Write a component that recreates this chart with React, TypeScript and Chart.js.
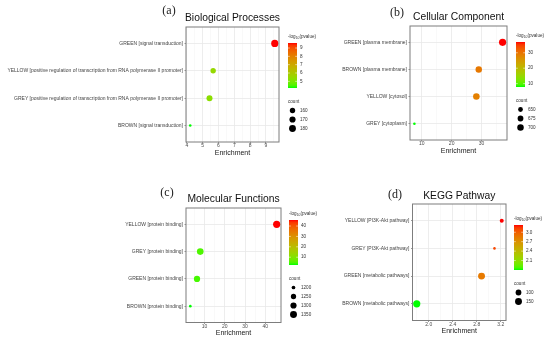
import React, { useEffect, useRef } from 'react';
import { Chart, registerables } from 'chart.js';

Chart.register(...registerables);

// ---------- data ----------
const bpTerms = [
  'GREEN [signal transduction]',
  'YELLOW [positive regulation of transcription from RNA polymerase II promoter]',
  'GREY [positive regulation of transcription from RNA polymerase II promoter]',
  'BROWN [signal transduction]',
];
const bpEnrichment = [9.56, 5.66, 5.43, 4.21];
const bpLogP = [9.6, 5.5, 5.3, 4.2];
const bpCount = [186, 160, 167, 145];
const bpXTicks = [4, 5, 6, 7, 8, 9];
const bpColorTicks = [5, 6, 7, 8, 9];
const bpCountBreaks = [160, 170, 180];

const ccTerms = ['GREEN [plasma membrane]', 'BROWN [plasma membrane]', 'YELLOW [cytosol]', 'GREY [cytoplasm]'];
const ccEnrichment = [37.1, 29.1, 28.3, 7.5];
const ccLogP = [37.0, 29.5, 28.5, 7.8];
const ccCount = [728, 698, 703, 628];
const ccXTicks = [10, 20, 30];
const ccColorTicks = [10, 20, 30];
const ccCountBreaks = [650, 675, 700];

const mfTerms = ['YELLOW [protein binding]', 'GREY [protein binding]', 'GREEN [protein binding]', 'BROWN [protein binding]'];
const mfEnrichment = [45.6, 7.9, 6.3, 3.0];
const mfLogP = [45.8, 5.0, 4.5, 2.5];
const mfCount = [1370, 1330, 1305, 1190];
const mfXTicks = [10, 20, 30, 40];
const mfColorTicks = [10, 20, 30, 40];
const mfCountBreaks = [1200, 1250, 1300, 1350];

const kpTerms = ['YELLOW [PI3K-Akt pathway]', 'GREY [PI3K-Akt pathway]', 'GREEN [metabolic pathways]', 'BROWN [metabolic pathways]'];
const kpEnrichment = [3.217, 3.096, 2.88, 1.8];
const kpLogP = [3.23, 3.1, 2.85, 1.8];
const kpCount = [52, 40, 152, 165];
const kpXTicks = [2.0, 2.4, 2.8, 3.2];
const kpColorTicks = [2.1, 2.4, 2.7, 3.0];
const kpCountBreaks = [100, 150];

// ---------- layout / style ----------
const W = 550;
const H = 342;
const SANS = "'Liberation Sans', Arial, sans-serif";
const SERIF = "'Liberation Serif', 'Times New Roman', serif";
const X_AXIS_H = 15.2;
const BAR_W = 9;
const BAR_H = 45;

const panels = [
  {
    letter: '(a)', title: 'Biological Processes', terms: bpTerms, enrichment: bpEnrichment, logp: bpLogP,
    count: bpCount, xTicks: bpXTicks, xDec: 0, colorTicks: bpColorTicks, cDec: 0, countBreaks: bpCountBreaks,
    plot: { l: 186, t: 27, r: 279, b: 142 }, bar: { x: 288, y: 43 }, letterPos: { x: 169, y: 11 }, titleY: 18,
  },
  {
    letter: '(b)', title: 'Cellular Component', terms: ccTerms, enrichment: ccEnrichment, logp: ccLogP,
    count: ccCount, xTicks: ccXTicks, xDec: 0, colorTicks: ccColorTicks, cDec: 0, countBreaks: ccCountBreaks,
    plot: { l: 410, t: 26, r: 507, b: 140 }, bar: { x: 516, y: 42 }, letterPos: { x: 397, y: 13 }, titleY: 16.7,
  },
  {
    letter: '(c)', title: 'Molecular Functions', terms: mfTerms, enrichment: mfEnrichment, logp: mfLogP,
    count: mfCount, xTicks: mfXTicks, xDec: 0, colorTicks: mfColorTicks, cDec: 0, countBreaks: mfCountBreaks,
    plot: { l: 186, t: 208, r: 281, b: 322.5 }, bar: { x: 289, y: 220 }, letterPos: { x: 167, y: 193 }, titleY: 199,
  },
  {
    letter: '(d)', title: 'KEGG Pathway', terms: kpTerms, enrichment: kpEnrichment, logp: kpLogP,
    count: kpCount, xTicks: kpXTicks, xDec: 1, colorTicks: kpColorTicks, cDec: 1, countBreaks: kpCountBreaks,
    plot: { l: 412.5, t: 204, r: 506, b: 320.5 }, bar: { x: 514, y: 225 }, letterPos: { x: 395, y: 195 }, titleY: 196,
  },
];

// ---------- colour (CIELAB interpolation green -> red, like ggplot) ----------
function toLab(rgb: number[]) {
  const lin = rgb.map((c) => {
    c /= 255;
    return c <= 0.04045 ? c / 12.92 : Math.pow((c + 0.055) / 1.055, 2.4);
  });
  const X = (lin[0] * 0.4124 + lin[1] * 0.3576 + lin[2] * 0.1805) / 0.95047;
  const Y = lin[0] * 0.2126 + lin[1] * 0.7152 + lin[2] * 0.0722;
  const Z = (lin[0] * 0.0193 + lin[1] * 0.1192 + lin[2] * 0.9505) / 1.08883;
  const f = (t: number) => (t > 0.008856 ? Math.cbrt(t) : 7.787 * t + 16 / 116);
  const fx = f(X), fy = f(Y), fz = f(Z);
  return [116 * fy - 16, 500 * (fx - fy), 200 * (fy - fz)];
}
function fromLab(lab: number[]) {
  const [L, a, b] = lab;
  const fy = (L + 16) / 116;
  const fx = fy + a / 500;
  const fz = fy - b / 200;
  const inv = (t: number) => (t * t * t > 0.008856 ? t * t * t : (t - 16 / 116) / 7.787);
  const X = inv(fx) * 0.95047, Y = inv(fy), Z = inv(fz) * 1.08883;
  const r = X * 3.2406 + Y * -1.5372 + Z * -0.4986;
  const g = X * -0.9689 + Y * 1.8758 + Z * 0.0415;
  const bb = X * 0.0557 + Y * -0.204 + Z * 1.057;
  const gam = (c: number) => {
    c = Math.min(1, Math.max(0, c));
    return Math.round(255 * (c <= 0.0031308 ? 12.92 * c : 1.055 * Math.pow(c, 1 / 2.4) - 0.055));
  };
  return `rgb(${gam(r)},${gam(g)},${gam(bb)})`;
}
const LOW = toLab([0, 255, 0]);
const HIGH = toLab([255, 0, 0]);
function mix(t: number) {
  t = Math.min(1, Math.max(0, t));
  return fromLab(LOW.map((v, i) => v + (HIGH[i] - v) * t));
}

function radiusFor(c: number, cmin: number, cmax: number) {
  const t = Math.min(1, Math.max(0, (c - cmin) / (cmax - cmin)));
  return 1.3 + 2.3 * Math.sqrt(t);
}

function decorPlugin(cfg: any) {
  return {
    id: 'decor' + cfg.letter,
    afterDraw(chart: any) {
      const ctx = chart.ctx as CanvasRenderingContext2D;
      const a = chart.chartArea;
      ctx.save();
      // panel border
      ctx.strokeStyle = '#7d7d7d';
      ctx.lineWidth = 1;
      ctx.strokeRect(a.left, a.top, a.right - a.left, a.bottom - a.top);
      // title
      ctx.fillStyle = '#111';
      ctx.font = `10.3px ${SANS}`;
      ctx.textAlign = 'center';
      ctx.textBaseline = 'middle';
      ctx.fillText(cfg.title, (a.left + a.right) / 2, cfg.titleY);
      // panel letter
      ctx.font = `12px ${SERIF}`;
      ctx.fillStyle = '#222';
      ctx.fillText(cfg.letter, cfg.letterPos.x, cfg.letterPos.y);

      // colour bar
      const vmin = Math.min(...cfg.logp);
      const vmax = Math.max(...cfg.logp);
      const { x, y } = cfg.bar;
      const g = ctx.createLinearGradient(0, y + BAR_H, 0, y);
      for (let i = 0; i <= 20; i++) g.addColorStop(i / 20, mix(i / 20));
      ctx.fillStyle = g;
      ctx.fillRect(x, y, BAR_W, BAR_H);
      ctx.font = `4.6px ${SANS}`;
      ctx.textAlign = 'left';
      ctx.fillStyle = '#333';
      // legend title: -log10(pvalue)
      const ty = y - 6;
      let tx = x;
      ctx.fillText('-log', tx, ty);
      tx += ctx.measureText('-log').width;
      ctx.font = `3.4px ${SANS}`;
      ctx.fillText('10', tx, ty + 1.2);
      tx += ctx.measureText('10').width;
      ctx.font = `4.6px ${SANS}`;
      ctx.fillText('(pvalue)', tx, ty);
      for (const v of cfg.colorTicks) {
        const py = y + BAR_H - ((v - vmin) / (vmax - vmin)) * BAR_H;
        ctx.strokeStyle = 'rgba(255,255,255,0.9)';
        ctx.lineWidth = 0.6;
        ctx.beginPath();
        ctx.moveTo(x, py); ctx.lineTo(x + 1.8, py);
        ctx.moveTo(x + BAR_W - 1.8, py); ctx.lineTo(x + BAR_W, py);
        ctx.stroke();
        ctx.fillStyle = '#333';
        ctx.fillText(v.toFixed(cfg.cDec), x + BAR_W + 3, py);
      }
      // count legend
      const cmin = Math.min(...cfg.count);
      const cmax = Math.max(...cfg.count);
      const cy = y + BAR_H + 13.5;
      ctx.fillStyle = '#333';
      ctx.fillText('count', x, cy);
      cfg.countBreaks.forEach((c: number, i: number) => {
        const dy = cy + 9 + i * 9;
        ctx.fillStyle = '#000';
        ctx.beginPath();
        ctx.arc(x + 4.5, dy, radiusFor(c, cmin, cmax), 0, Math.PI * 2);
        ctx.fill();
        ctx.fillStyle = '#333';
        ctx.fillText(String(c), x + BAR_W + 3, dy);
      });
      ctx.restore();
    },
  };
}

function Panel({ cfg }: { cfg: any }) {
  const ref = useRef<HTMLCanvasElement | null>(null);
  useEffect(() => {
    const canvas = ref.current;
    if (!canvas) return;
    const { plot } = cfg;
    const n = cfg.terms.length;
    const dmin = Math.min(...cfg.enrichment);
    const dmax = Math.max(...cfg.enrichment);
    const span = dmax - dmin;
    const xmin = dmin - span * 0.05;
    const xmax = dmax + span * 0.05;
    const step = cfg.xTicks[1] - cfg.xTicks[0];
    const allTicks: number[] = [];
    for (let v = cfg.xTicks[0] - step * 1.5; v <= xmax + 1e-9; v += step / 2) {
      if (v >= xmin - 1e-9) allTicks.push(Math.round(v * 1000) / 1000);
    }
    const isMajor = (v: number) => cfg.xTicks.some((m: number) => Math.abs(m - v) < 1e-6);
    const vmin = Math.min(...cfg.logp);
    const vmax = Math.max(...cfg.logp);
    const cmin = Math.min(...cfg.count);
    const cmax = Math.max(...cfg.count);

    const chart = new Chart(canvas, {
      type: 'bubble',
      data: {
        datasets: [
          {
            data: cfg.enrichment.map((xv: number, i: number) => ({ x: xv, y: i + 1, r: radiusFor(cfg.count[i], cmin, cmax) })),
            backgroundColor: cfg.logp.map((v: number) => mix((v - vmin) / (vmax - vmin))),
            borderWidth: 0,
            hoverBorderWidth: 0,
          },
        ],
      },
      options: {
        responsive: false,
        animation: false,
        devicePixelRatio: 1,
        events: [],
        layout: { padding: { left: 0, top: plot.t, right: W - plot.r, bottom: H - plot.b - X_AXIS_H } },
        plugins: { legend: { display: false }, tooltip: { enabled: false }, title: { display: false } },
        scales: {
          x: {
            type: 'linear',
            position: 'bottom',
            min: xmin,
            max: xmax,
            afterBuildTicks: (s: any) => {
              s.ticks = allTicks.map((v) => ({ value: v }));
            },
            afterFit: (s: any) => {
              s.height = X_AXIS_H;
            },
            ticks: {
              autoSkip: false,
              maxRotation: 0,
              padding: 0,
              color: '#4d4d4d',
              font: { family: SANS, size: 5, lineHeight: 1 },
              callback: (v: any) => (isMajor(Number(v)) ? Number(v).toFixed(cfg.xDec) : ''),
            },
            grid: {
              color: (c: any) => (c.tick && isMajor(c.tick.value) ? '#e8e8e8' : '#f2f2f2'),
              lineWidth: (c: any) => (c.tick && isMajor(c.tick.value) ? 0.8 : 0.5),
              tickColor: (c: any) => (c.tick && isMajor(c.tick.value) ? '#555' : 'rgba(0,0,0,0)'),
              tickLength: 1.5,
              tickWidth: 0.6,
            },
            border: { display: false },
            title: {
              display: true,
              text: 'Enrichment',
              color: '#1a1a1a',
              padding: 0,
              font: { family: SANS, size: 7, lineHeight: 1.2 },
            },
          },
          y: {
            type: 'linear',
            min: 0.4,
            max: n + 0.6,
            reverse: true,
            afterBuildTicks: (s: any) => {
              s.ticks = cfg.terms.map((_: string, i: number) => ({ value: i + 1 }));
            },
            afterFit: (s: any) => {
              s.width = plot.l;
            },
            ticks: {
              autoSkip: false,
              padding: 1.5,
              color: '#444',
              font: { family: SANS, size: 5 },
              callback: (v: any) => cfg.terms[Math.round(Number(v)) - 1] ?? '',
            },
            grid: { color: '#e8e8e8', lineWidth: 0.8, tickColor: '#555', tickLength: 1.5, tickWidth: 0.6 },
            border: { display: false },
          },
        },
      } as any,
      plugins: [decorPlugin(cfg)],
    });
    return () => chart.destroy();
  }, []);
  return (
    <canvas
      ref={ref}
      width={W}
      height={H}
      style={{ position: 'absolute', left: 0, top: 0, width: W, height: H }}
    />
  );
}

export default function App() {
  return (
    <div style={{ position: 'fixed', left: 0, top: 0, width: W, height: H, background: '#fff', overflow: 'hidden' }}>
      {panels.map((p) => (
        <Panel key={p.letter} cfg={p} />
      ))}
    </div>
  );
}
